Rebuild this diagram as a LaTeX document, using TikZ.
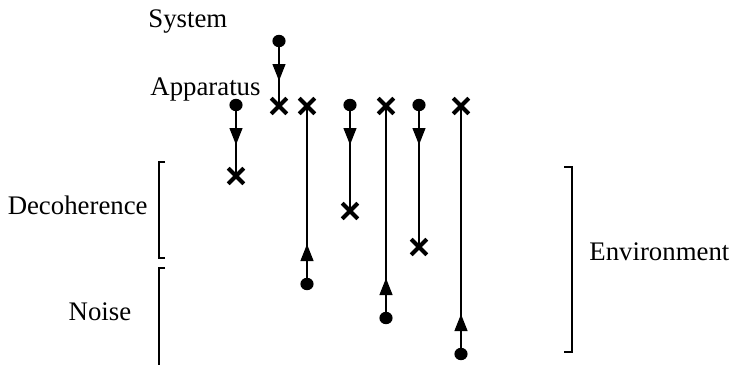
\documentclass[tikz,border=0pt]{standalone}
\usepackage{fontspec}
\setmainfont{Liberation Serif}
\usetikzlibrary{shapes.misc,arrows.meta,decorations.markings}
\tikzset{
  dotnode/.style={ellipse,fill=black,inner sep=0pt,minimum width=6.6pt,minimum height=6.2pt},
  crossnode/.style={cross out,draw=black,line width=2pt,inner sep=0pt,minimum size=5.8pt},
  lbl/.style={font=\fontsize{13.4pt}{15pt}\selectfont,inner sep=0pt},
  flow/.style={line width=1.2pt,postaction={decorate},
    decoration={markings,mark=at position 20pt with {\arrow{Triangle[length=8.5pt,width=6.3pt]}}}},
  brk/.style={line width=1.2pt}
}
\usetikzlibrary{shapes.geometric}
\begin{document}
\begin{tikzpicture}[x=0.5pt,y=-0.5pt]
\useasboundingbox (0,0) rectangle (739,365);
% labels
\node[lbl,anchor=base west] (sys) at (148,27) {System};
\node[lbl,anchor=base west] (app) at (150,95) {Apparatus};
\node[lbl,anchor=base east] (dec) at (148,214) {Decoherence};
\node[lbl,anchor=base] (noi) at (100,320) {Noise};
\node[lbl,anchor=base west] (env) at (589,260) {Environment};
% column 1
\node[dotnode] (d1) at (279,41) {};
\node[crossnode] (c1) at (279,106) {};
% column 2
\node[dotnode] (d2) at (236,105) {};
\node[crossnode] (c2) at (236,176) {};
% column 3
\node[crossnode] (c3) at (307,106) {};
\node[dotnode] (d3) at (307,284) {};
% column 4
\node[dotnode] (d4) at (350,105) {};
\node[crossnode] (c4) at (350,211) {};
% column 5
\node[crossnode] (c5) at (386,106) {};
\node[dotnode] (d5) at (386,318) {};
% column 6
\node[dotnode] (d6) at (419,105) {};
\node[crossnode] (c6) at (419,247) {};
% column 7
\node[crossnode] (c7) at (461,106) {};
\node[dotnode] (d7) at (461,354) {};
% connectors
\foreach \i in {1,...,7}{
  \draw[flow] (d\i.center) -- (c\i.center);
}
% brackets
\coordinate (b1t) at (159,162);
\coordinate (b1b) at (159,258);
\draw[brk] ([xshift=3]b1t) -- (b1t) -- (b1b) -- ([xshift=3]b1b);
\coordinate (b2t) at (159,268);
\coordinate (b2b) at (159,365);
\draw[brk] ([xshift=3]b2t) -- (b2t) -- (b2b);
\coordinate (b3t) at (572,167);
\coordinate (b3b) at (572,352);
\draw[brk] ([xshift=-4]b3t) -- (b3t) -- (b3b) -- ([xshift=-4]b3b);
\end{tikzpicture}
\end{document}
